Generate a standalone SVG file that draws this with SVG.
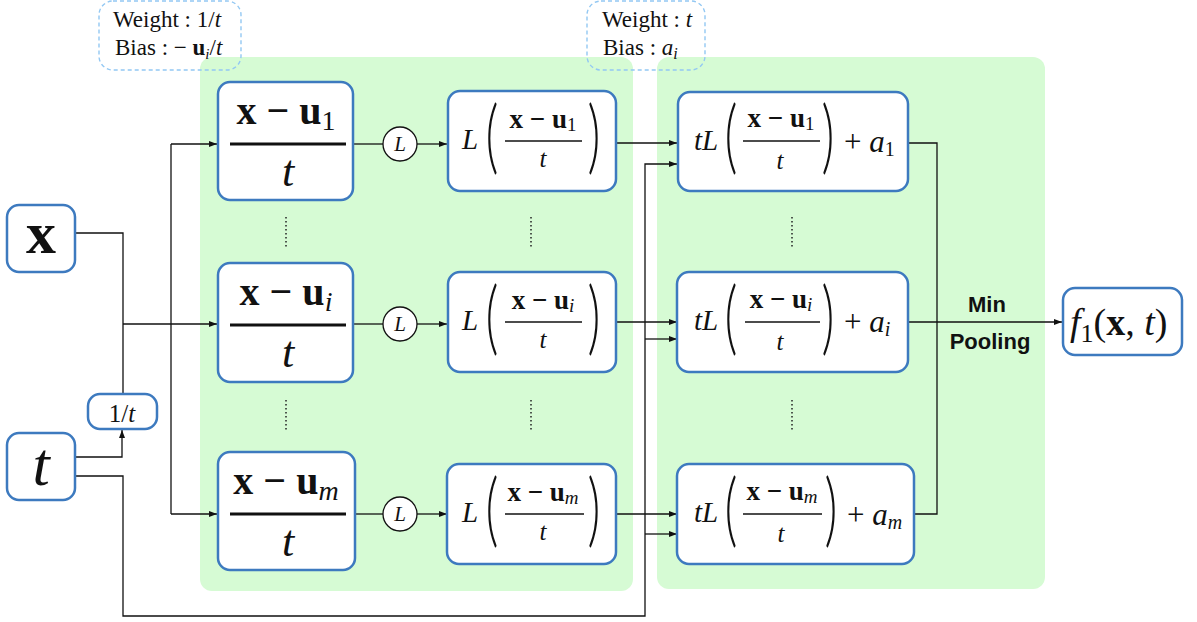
<svg xmlns="http://www.w3.org/2000/svg" width="1197" height="622" viewBox="0 0 1197 622">
<style>
.bg{fill:#d6fbd4}
.nd{fill:#fff;stroke:#3d7abf;stroke-width:2.5}
.dash{fill:none;stroke:#93c8f3;stroke-width:1.4;stroke-dasharray:4 3}
.c{fill:none;stroke:#111;stroke-width:1.3}
.bar{stroke:#111}
.dot{stroke:#222;stroke-width:1.5;stroke-dasharray:1.5 2.5}
text{font-family:"Liberation Serif","Times New Roman",serif;fill:#111}
.b{font-weight:bold}
.i{font-style:italic}
.m{text-anchor:middle}
.p{font-family:Lato,"Liberation Serif",serif;font-weight:300;font-size:40px;text-anchor:middle}
.s{font-family:"Liberation Sans",Arial,sans-serif;font-weight:bold;font-size:22px;text-anchor:middle}
</style>
<defs>
<marker id="a" markerUnits="userSpaceOnUse" markerWidth="8" markerHeight="6" refX="8" refY="3" orient="auto"><path d="M0,0 L8,3 L0,6 z" fill="#111"/></marker>
</defs>
<g id="backgrounds">
<rect class="bg" x="200" y="57" width="433" height="534" rx="12"/>
<rect class="bg" x="657" y="57" width="388" height="532" rx="12"/>
</g>
<g id="annotations">
<rect class="dash" x="99" y="1" width="142" height="69" rx="14"/>
<text x="113" y="27" font-size="23">Weight : 1/<tspan class="i">t</tspan></text>
<text x="115" y="55" font-size="23">Bias : − <tspan class="b">u</tspan><tspan class="i" font-size="15" dy="4">i</tspan><tspan dy="-4">/</tspan><tspan class="i">t</tspan></text>
<rect class="dash" x="587" y="1" width="118" height="69" rx="14"/>
<text x="602" y="27" font-size="23">Weight : <tspan class="i">t</tspan></text>
<text x="603" y="55" font-size="23">Bias : <tspan class="i">a</tspan><tspan class="i" font-size="16" dy="4">i</tspan></text>
</g>
<g id="connectors">
<polyline class="c" points="75,233 123,233 123,394"/>
<line class="c" x1="123" y1="324" x2="217" y2="324" marker-end="url(#a)"/>
<polyline class="c" points="75,457 122,457 122,430" marker-end="url(#a)"/>
<line class="c" x1="171" y1="144" x2="171" y2="514"/>
<line class="c" x1="171" y1="144" x2="217" y2="144" marker-end="url(#a)"/>
<line class="c" x1="171" y1="514" x2="217" y2="514" marker-end="url(#a)"/>
<polyline class="c" points="75,476 123,476 123,616 645,616 645,164 677,164" marker-end="url(#a)"/>
<line class="c" x1="645" y1="339" x2="677" y2="339" marker-end="url(#a)"/>
<line class="c" x1="645" y1="534" x2="677" y2="534" marker-end="url(#a)"/>
<line class="c" x1="353" y1="144" x2="383" y2="144"/>
<line class="c" x1="417" y1="144" x2="447" y2="144" marker-end="url(#a)"/>
<line class="c" x1="353" y1="324" x2="383" y2="324"/>
<line class="c" x1="417" y1="324" x2="447" y2="324" marker-end="url(#a)"/>
<line class="c" x1="355" y1="514" x2="383" y2="514"/>
<line class="c" x1="417" y1="514" x2="447" y2="514" marker-end="url(#a)"/>
<line class="c" x1="616" y1="143" x2="677" y2="143" marker-end="url(#a)"/>
<line class="c" x1="616" y1="322" x2="677" y2="322" marker-end="url(#a)"/>
<line class="c" x1="616" y1="514" x2="677" y2="514" marker-end="url(#a)"/>
<polyline class="c" points="908,143 937,143 937,514 914,514"/>
<line class="c" x1="909" y1="322" x2="1062" y2="322" marker-end="url(#a)"/>
<line class="dot" x1="286" y1="217" x2="286" y2="248"/>
<line class="dot" x1="286" y1="400" x2="286" y2="432"/>
<line class="dot" x1="531" y1="217" x2="531" y2="248"/>
<line class="dot" x1="531" y1="400" x2="531" y2="432"/>
<line class="dot" x1="792" y1="217" x2="792" y2="248"/>
<line class="dot" x1="792" y1="400" x2="792" y2="432"/>
</g>
<g id="node-x">
<rect class="nd" x="7" y="205" width="68" height="67" rx="12"/>
<text class="b m" x="41" y="253" font-size="60">x</text>
</g>
<g id="node-t">
<rect class="nd" x="7" y="433" width="68" height="67" rx="12"/>
<text class="i m" x="41" y="485" font-size="62">t</text>
</g>
<g id="node-inv-t">
<rect class="nd" x="88" y="394" width="69" height="35" rx="12"/>
<text class="m" x="122" y="422" font-size="25">1/<tspan class="i">t</tspan></text>
</g>
<g id="node-z1">
<rect class="nd" x="218" y="82" width="135" height="118" rx="12"/>
<text class="b m" x="286" y="124" font-size="40">x − u<tspan font-weight="normal" font-size="28" dy="6">1</tspan></text>
<line class="bar" x1="230" y1="144" x2="346" y2="144" stroke-width="3"/>
<text class="i m" x="288" y="186" font-size="44">t</text>
</g>
<g id="node-zi">
<rect class="nd" x="218" y="263" width="135" height="119" rx="12"/>
<text class="b m" x="286" y="305" font-size="40">x − u<tspan font-weight="normal" font-style="italic" font-size="28" dy="6">i</tspan></text>
<line class="bar" x1="230" y1="325" x2="346" y2="325" stroke-width="3"/>
<text class="i m" x="288" y="367" font-size="44">t</text>
</g>
<g id="node-zm">
<rect class="nd" x="218" y="452" width="137" height="118" rx="12"/>
<text class="b m" x="286" y="494" font-size="40">x − u<tspan font-weight="normal" font-style="italic" font-size="28" dy="6">m</tspan></text>
<line class="bar" x1="230" y1="514" x2="346" y2="514" stroke-width="3"/>
<text class="i m" x="288" y="556" font-size="44">t</text>
</g>
<g id="node-L1">
<circle cx="400" cy="144" r="17" fill="#fff" stroke="#111" stroke-width="1.3"/>
<text class="i m" x="400" y="151" font-size="21">L</text>
</g>
<g id="node-Li">
<circle cx="400" cy="324" r="17" fill="#fff" stroke="#111" stroke-width="1.3"/>
<text class="i m" x="400" y="331" font-size="21">L</text>
</g>
<g id="node-Lm">
<circle cx="400" cy="514" r="17" fill="#fff" stroke="#111" stroke-width="1.3"/>
<text class="i m" x="400" y="521" font-size="21">L</text>
</g>
<g id="node-a1">
<rect class="nd" x="448" y="91" width="168" height="100" rx="12"/>
<text class="i m" x="470" y="149" font-size="29">L</text>
<text class="p" transform="translate(492,164) scale(1.25,2)">(</text>
<text class="b m" x="543" y="128" font-size="27">x − u<tspan font-weight="normal" font-size="19" dy="3">1</tspan></text>
<line class="bar" x1="505" y1="141" x2="582" y2="141" stroke-width="1.6"/>
<text class="i m" x="543" y="167" font-size="25">t</text>
<text class="p" transform="translate(594,164) scale(1.25,2)">)</text>
</g>
<g id="node-ai">
<rect class="nd" x="448" y="272" width="168" height="100" rx="12"/>
<text class="i m" x="470" y="330" font-size="29">L</text>
<text class="p" transform="translate(492,345) scale(1.25,2)">(</text>
<text class="b m" x="543" y="309" font-size="27">x − u<tspan font-weight="normal" font-style="italic" font-size="19" dy="3">i</tspan></text>
<line class="bar" x1="505" y1="322" x2="582" y2="322" stroke-width="1.6"/>
<text class="i m" x="543" y="348" font-size="25">t</text>
<text class="p" transform="translate(594,345) scale(1.25,2)">)</text>
</g>
<g id="node-am">
<rect class="nd" x="447" y="464" width="169" height="100" rx="12"/>
<text class="i m" x="470" y="522" font-size="29">L</text>
<text class="p" transform="translate(492,537) scale(1.25,2)">(</text>
<text class="b m" x="543" y="501" font-size="27">x − u<tspan font-weight="normal" font-style="italic" font-size="19" dy="3">m</tspan></text>
<line class="bar" x1="505" y1="514" x2="584" y2="514" stroke-width="1.6"/>
<text class="i m" x="543" y="540" font-size="25">t</text>
<text class="p" transform="translate(594,537) scale(1.25,2)">)</text>
</g>
<g id="node-b1">
<rect class="nd" x="678" y="92" width="230" height="99" rx="12"/>
<text class="i m" x="706" y="150" font-size="29">tL</text>
<text class="p" transform="translate(731,164) scale(1.25,2)">(</text>
<text class="b m" x="781" y="127" font-size="27">x − u<tspan font-weight="normal" font-size="19" dy="3">1</tspan></text>
<line class="bar" x1="743" y1="141" x2="820" y2="141" stroke-width="1.6"/>
<text class="i m" x="780" y="169" font-size="25">t</text>
<text class="p" transform="translate(828,164) scale(1.25,2)">)</text>
<text x="844" y="152" font-size="31">+ <tspan class="i">a</tspan><tspan font-size="20" dy="4">1</tspan></text>
</g>
<g id="node-bi">
<rect class="nd" x="677" y="272" width="231" height="100" rx="12"/>
<text class="i m" x="706" y="330" font-size="29">tL</text>
<text class="p" transform="translate(731,345) scale(1.25,2)">(</text>
<text class="b m" x="781" y="308" font-size="27">x − u<tspan font-weight="normal" font-style="italic" font-size="19" dy="3">i</tspan></text>
<line class="bar" x1="745" y1="322" x2="820" y2="322" stroke-width="1.6"/>
<text class="i m" x="780" y="350" font-size="25">t</text>
<text class="p" transform="translate(828,345) scale(1.25,2)">)</text>
<text x="844" y="332" font-size="31">+ <tspan class="i">a</tspan><tspan class="i" font-size="20" dy="4">i</tspan></text>
</g>
<g id="node-bm">
<rect class="nd" x="677" y="464" width="237" height="100" rx="12"/>
<text class="i m" x="706" y="522" font-size="29">tL</text>
<text class="p" transform="translate(731,537) scale(1.25,2)">(</text>
<text class="b m" x="782" y="500" font-size="27">x − u<tspan font-weight="normal" font-style="italic" font-size="19" dy="3">m</tspan></text>
<line class="bar" x1="743" y1="514" x2="822" y2="514" stroke-width="1.6"/>
<text class="i m" x="781" y="542" font-size="25">t</text>
<text class="p" transform="translate(831,537) scale(1.25,2)">)</text>
<text x="847" y="525" font-size="31">+ <tspan class="i">a</tspan><tspan class="i" font-size="20" dy="4">m</tspan></text>
</g>
<g id="label-pooling">
<text class="s" x="987" y="312">Min</text>
<text class="s" x="990" y="349">Pooling</text>
</g>
<g id="node-out">
<rect class="nd" x="1063" y="288" width="119" height="67" rx="12"/>
<text x="1070" y="335" font-size="38"><tspan class="i">f</tspan><tspan font-size="26" dy="7">1</tspan><tspan dy="-7">(</tspan><tspan class="b">x</tspan>, <tspan class="i">t</tspan>)</text>
</g>
</svg>
